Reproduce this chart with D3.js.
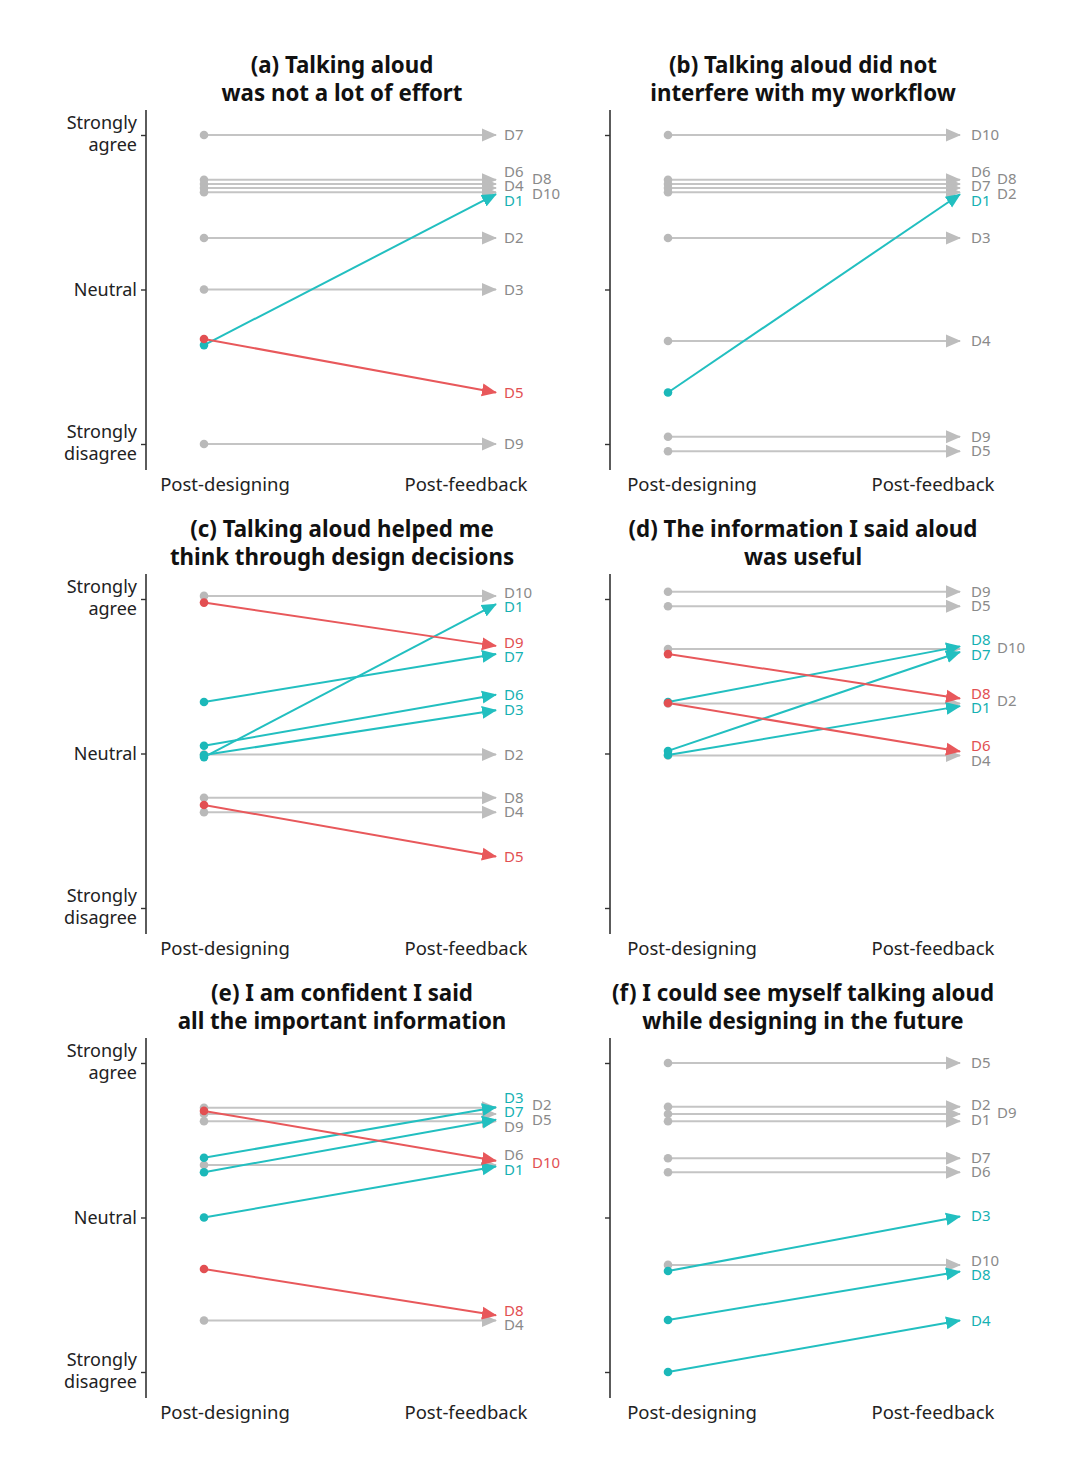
<!DOCTYPE html>
<html><head><meta charset="utf-8">
<script src="https://cdn.jsdelivr.net/npm/d3@7"></script>
<style>body{margin:0;background:#fff}text{font-family:"Noto Sans",sans-serif}</style>
</head><body><svg id="c" width="1089" height="1470"></svg>
<script>
const titles = [
  ["(a) Talking aloud", "was not a lot of effort"],
  ["(b) Talking aloud did not", "interfere with my workflow"],
  ["(c) Talking aloud helped me", "think through design decisions"],
  ["(d) The information I said aloud", "was useful"],
  ["(e) I am confident I said", "all the important information"],
  ["(f) I could see myself talking aloud", "while designing in the future"]
];
const stages = ["Post-designing", "Post-feedback"];
const scaleTicks = [7, 4, 1];
const scaleTickLabels = [["Strongly", "agree"], ["Neutral"], ["Strongly", "disagree"]];

// participants listed top-to-bottom in label order; values on 1..7 Likert scale (with tie jitter)
const idsA  = ["D7","D6","D8","D4","D10","D1","D2","D3","D5","D9"];
const preA  = [7.0, 6.13, 6.05, 5.97, 5.89, 2.92, 5.0, 4.0, 3.04, 1.0];
const postA = [7.0, 6.13, 6.05, 5.97, 5.89, 5.85, 5.0, 4.0, 2.0, 1.0];

const idsB  = ["D10","D6","D8","D7","D2","D1","D3","D4","D9","D5"];
const preB  = [7.0, 6.13, 6.05, 5.97, 5.89, 2.0, 5.0, 3.0, 1.14, 0.86];
const postB = [7.0, 6.13, 6.05, 5.97, 5.89, 5.85, 5.0, 3.0, 1.14, 0.86];

const idsC  = ["D10","D1","D9","D7","D6","D3","D2","D8","D4","D5"];
const preC  = [7.06, 3.93, 6.93, 5.0, 4.15, 3.97, 3.98, 3.14, 2.86, 3.0];
const postC = [7.06, 6.9, 6.09, 5.93, 5.14, 4.84, 3.98, 3.14, 2.86, 2.0];

const idsD  = ["D9","D5","D8","D10","D7","D8","D2","D1","D6","D4"];
const preD  = [7.14, 6.86, 5.0, 6.03, 4.05, 5.93, 4.97, 3.97, 4.98, 3.96];
const postD = [7.14, 6.86, 6.08, 6.03, 5.97, 5.07, 4.97, 4.92, 4.04, 3.96];

const idsE  = ["D3","D2","D7","D5","D9","D6","D10","D1","D8","D4"];
const preE  = [5.16, 6.13, 4.88, 6.01, 5.87, 5.02, 6.07, 4.0, 3.0, 2.0];
const postE = [6.14, 6.13, 5.9, 6.01, 5.87, 5.02, 5.1, 4.99, 2.1, 2.0];

const idsF  = ["D5","D2","D9","D1","D7","D6","D3","D10","D8","D4"];
const preF  = [7.0, 6.15, 6.01, 5.87, 5.15, 4.88, 2.96, 3.08, 2.01, 1.0];
const postF = [7.0, 6.15, 6.01, 5.87, 5.15, 4.88, 4.02, 3.08, 2.95, 2.0];

const panelIds  = [idsA, idsB, idsC, idsD, idsE, idsF];
const panelPre  = [preA, preB, preC, preD, preE, preF];
const panelPost = [postA, postB, postC, postD, postE, postF];

const COL = {up: "#22bfc0", down: "#e8585b", same: "#c4c4c4"};
const DOT = {up: "#1bb8b9", down: "#e24f52", same: "#b9b9b9"};
const LAB = {up: "#16b1b3", down: "#e24f52", same: "#8a8a8a"};

const svg = d3.select("#c");
const defs = svg.append("defs");
Object.keys(COL).forEach(k => {
  defs.append("marker").attr("id", "ah-" + k)
    .attr("viewBox", "0 -7 15 14").attr("refX", 14).attr("refY", 0)
    .attr("markerUnits", "userSpaceOnUse").attr("markerWidth", 15).attr("markerHeight", 14)
    .attr("orient", "auto")
    .append("path").attr("d", "M0,-6.5L15,0L0,6.5Z").attr("fill", k === "same" ? "#bdbdbd" : COL[k]);
});

const colAxisX = [146, 610];
const rowTop = [135, 599, 1063];

panelIds.forEach((ids, p) => {
  const col = p % 2, row = Math.floor(p / 2);
  const ax = colAxisX[col], top = rowTop[row], bot = top + 309;
  const y = d3.scaleLinear().domain([7, 1]).range([top, bot]);
  const x = d3.scalePoint().domain(stages).range([ax + 58, ax + 350]);
  const lshift = col === 0 ? 0 : 3;
  const xl = d3.scalePoint().domain(stages).range([ax + 79 + lshift, ax + 320 + lshift]);
  const g = svg.append("g");

  // title
  titles[p].forEach((t, i) => g.append("text").attr("x", ax + (col === 0 ? 196 : 193)).attr("y", top - 62 + i * 28)
    .attr("text-anchor", "middle").attr("font-size", 22.3).attr("font-weight", "bold").attr("fill", "#111").text(t));

  // y axis
  const axis = d3.axisLeft(y).tickValues(scaleTicks).tickSize(5).tickFormat("");
  const ag = g.append("g").attr("transform", `translate(${ax},0)`).call(axis);
  ag.select(".domain").attr("d", `M-0,${top - 25}V${bot + 26}`).attr("stroke", "#333").attr("stroke-width", 1.6);
  ag.selectAll(".tick line").attr("stroke", "#333").attr("stroke-width", 1.4);
  if (col === 0) {
    scaleTicks.forEach((v, i) => {
      const lines = scaleTickLabels[i];
      lines.forEach((s, j) => {
        const off = lines.length === 1 ? 6 : (j === 0 ? -6 : 16);
        g.append("text").attr("x", ax - 9).attr("y", y(v) + off).attr("text-anchor", "end")
          .attr("font-size", 18).attr("fill", "#222").text(s);
      });
    });
  }
  // x labels
  stages.forEach(s => g.append("text").attr("x", xl(s)).attr("y", top + 356).attr("text-anchor", "middle")
    .attr("font-size", 18.5).attr("fill", "#222").text(s));

  const pre = panelPre[p], post = panelPost[p];
  const items = ids.map((id, i) => {
    const d = post[i] - pre[i];
    return {id, pre: pre[i], post: post[i], dir: d > 0.5 ? "up" : d < -0.5 ? "down" : "same", i};
  });
  const order = ["same", "up", "down"];
  const drawn = items.slice().sort((a, b) => order.indexOf(a.dir) - order.indexOf(b.dir));
  g.selectAll("line.m").data(drawn).join("line").attr("class", "m")
    .attr("x1", x(stages[0])).attr("y1", d => y(d.pre))
    .attr("x2", x(stages[1])).attr("y2", d => y(d.post))
    .attr("stroke", d => COL[d.dir]).attr("stroke-width", 2)
    .attr("marker-end", d => `url(#ah-${d.dir})`);
  g.selectAll("circle.m").data(drawn).join("circle").attr("class", "m")
    .attr("cx", x(stages[0])).attr("cy", d => y(d.pre)).attr("r", 4.3)
    .attr("fill", d => DOT[d.dir]);

  // label layout: group consecutive items whose endpoints are close
  const groups = [];
  items.forEach(it => {
    const last = groups[groups.length - 1];
    if (last && Math.abs(y(it.post) - y(last[last.length - 1].post)) < 15.5) last.push(it);
    else groups.push([it]);
  });
  const tip = x(stages[1]);
  const dx1 = col === 0 ? 8 : 11, dx2 = col === 0 ? 36 : 37;
  groups.forEach(gr => {
    const mean = d3.mean(gr, d => y(d.post));
    if (gr.length >= 3) {
      const c1 = gr.filter((d, k) => k % 2 === 0), c2 = gr.filter((d, k) => k % 2 === 1);
      const y0 = mean - (c1.length - 1) * 14.5 / 2 - 1.5;
      c1.forEach((d, k) => { d.lx = tip + dx1; d.ly = y0 + k * 14.5; });
      c2.forEach((d, k) => { d.lx = tip + dx2; d.ly = y0 + k * 14.5 + 7.5; });
    } else {
      const y0 = mean - (gr.length - 1) * 14.5 / 2;
      gr.forEach((d, k) => { d.lx = tip + dx1; d.ly = y0 + k * 14.5; });
    }
  });
  g.selectAll("text.lab").data(items).join("text").attr("class", "lab")
    .attr("x", d => d.lx).attr("y", d => d.ly + 5).attr("font-size", 15)
    .attr("fill", d => LAB[d.dir]).text(d => d.id);
});
</script></body></html>
